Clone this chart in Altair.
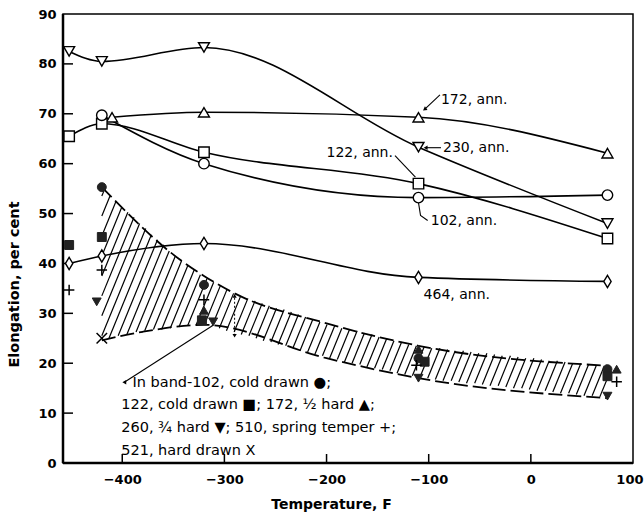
import altair as alt
import numpy as np
import pandas as pd

FONT = "DejaVu Sans"

# ---- annealed series (open markers, solid smooth curves) ----
s230_x = [-452, -420, -320, -110, 75]
s230_y = [82.5, 80.5, 83.3, 63.3, 48.0]
s172_x = [-410, -320, -110, 75]
s172_y = [69.3, 70.3, 69.3, 62.1]
s122_x = [-452, -420, -320, -110, 75]
s122_y = [65.5, 68.0, 62.3, 56.0, 45.0]
s102_x = [-420, -320, -110, 75]
s102_y = [69.7, 60.0, 53.2, 53.7]
s464_x = [-452, -420, -320, -110, 75]
s464_y = [40.0, 41.5, 44.0, 37.2, 36.4]

# ---- cold-worked points (filled / stroked markers) ----
cold_x = [-452, -452, -420, -420, -420, -425, -420,
          -320, -320, -320, -322, -311,
          -110, -110, -104, -112, -110,
          75, 75, 84, 84, 75]
cold_y = [43.7, 34.7, 55.3, 45.3, 38.7, 32.3, 25.0,
          35.7, 32.7, 30.6, 28.6, 28.3,
          22.8, 21.0, 20.3, 19.6, 17.0,
          18.8, 17.4, 18.8, 16.3, 13.4]
cold_kind = ["square", "plus", "circle", "square", "plus", "tdown", "x",
             "circle", "plus", "tup", "square", "tdown",
             "tup", "circle", "square", "plus", "tdown",
             "circle", "square", "tup", "plus", "tdown"]

# ---- scatter band edges ----
band_up_x = [-420, -345, -320, -290, -200, -110, 75]
band_up_y = [55.3, 41.0, 37.5, 34.0, 28.0, 23.5, 19.5]
band_lo_x = [-420, -380, -320, -200, -110, 75]
band_lo_y = [24.6, 26.3, 27.7, 21.0, 17.0, 13.0]

x_ticks = [-400, -300, -200, -100, 0, 100]
y_ticks = [0, 10, 20, 30, 40, 50, 60, 70, 80, 90]

XS = alt.Scale(domain=[-458, 100], nice=False, zero=False)
YS = alt.Scale(domain=[0, 90], nice=False, zero=False)

W, H = 570, 449

X_AXIS = alt.Axis(
    values=x_ticks, title="Temperature, F", ticks=False, domain=False, grid=False,
    labelFont=FONT, labelFontSize=13, labelFontWeight="bold", labelColor="black",
    labelPadding=10, titleFont=FONT, titleFontSize=14, titleFontWeight="bold",
    titleColor="black", titlePadding=11, titleX=268, labelFlush=True, labelFlushOffset=10)
Y_AXIS = alt.Axis(
    values=y_ticks, title="Elongation, per cent", ticks=False, domain=False, grid=False,
    labelFont=FONT, labelFontSize=13, labelFontWeight="bold", labelColor="black",
    labelPadding=7, titleFont=FONT, titleFontSize=14.5, titleFontWeight="bold",
    titleColor="black", titlePadding=16, titleY=270, labelFlush=False)

# ---------------- data frames ----------------
rows = []
for name, xs, ys in [("230", s230_x, s230_y), ("172", s172_x, s172_y),
                     ("122", s122_x, s122_y), ("102", s102_x, s102_y),
                     ("464", s464_x, s464_y)]:
    for i, (a, b) in enumerate(zip(xs, ys)):
        rows.append({"s": name, "x": a, "y": b, "i": i})
ann = pd.DataFrame(rows)

shape_map = {
    "230": "triangle-down",
    "172": "triangle-up",
    "122": "square",
    "102": "circle",
    "464": "M0,-1L0.6,0L0,1L-0.6,0Z",
}
ann["shape"] = ann["s"].map(shape_map)
size_map = {"230": 120, "172": 120, "122": 110, "102": 110, "464": 150}
ann["size"] = ann["s"].map(size_map)

cold = pd.DataFrame({"x": cold_x, "y": cold_y, "k": cold_kind})
filled_shapes = {"square": "square", "circle": "circle",
                 "tup": "triangle-up", "tdown": "triangle-down"}
cold_f = cold[cold.k.isin(filled_shapes)].copy()
cold_f["shape"] = cold_f.k.map(filled_shapes)
cold_s = cold[~cold.k.isin(filled_shapes)].copy()
cold_s["shape"] = cold_s.k.map({"plus": "M-1,0L1,0M0,-1L0,1",
                                 "x": "M-1,-1L1,1M-1,1L1,-1"})

band = pd.concat([
    pd.DataFrame({"e": "up", "x": band_up_x, "y": band_up_y}),
    pd.DataFrame({"e": "lo", "x": band_lo_x, "y": band_lo_y}),
])

# hatch styling inside the band (decoration)
dense = np.arange(-420, 75.01, 0.5)
upf = np.interp(dense, band_up_x, band_up_y)
lof = np.interp(dense, band_lo_x, band_lo_y)
m = 0.5
hatch = []
cmin = (lof - m * dense).min()
cmax = (upf - m * dense).max()
for c in np.arange(cmin, cmax, 4.0):
    ly = m * dense + c
    mask = (ly >= lof) & (ly <= upf)
    if mask.sum() > 1:
        xa, xb = dense[mask].min(), dense[mask].max()
        hatch.append({"x": xa, "y": m * xa + c, "x2": xb, "y2": m * xb + c})
hatch = pd.DataFrame(hatch)

# ---------------- layers ----------------
base_x = alt.X("x:Q", scale=XS, axis=X_AXIS)
base_y = alt.Y("y:Q", scale=YS, axis=Y_AXIS)

hatch_layer = alt.Chart(hatch).mark_rule(color="black", strokeWidth=1.2).encode(
    x=base_x, y=base_y, x2="x2:Q", y2="y2:Q")

band_layer = alt.Chart(band).mark_line(
    color="black", strokeWidth=1.8, strokeDash=[14, 5], interpolate="monotone"
).encode(x=base_x, y=base_y, detail="e:N")

curve_layer = alt.Chart(ann).mark_line(
    color="black", strokeWidth=1.6, interpolate="monotone"
).encode(x=base_x, y=base_y, detail="s:N", order="i:Q")

open_pts = alt.Chart(ann).mark_point(
    filled=True, fill="white", stroke="black", strokeWidth=1.4, opacity=1
).encode(x=base_x, y=base_y,
         shape=alt.Shape("shape:N", scale=None),
         size=alt.Size("size:Q", scale=None))

filled_pts = alt.Chart(cold_f).mark_point(
    filled=True, fill="#222222", stroke="#222222", strokeWidth=1, size=80, opacity=1
).encode(x=base_x, y=base_y, shape=alt.Shape("shape:N", scale=None))

stroke_pts = alt.Chart(cold_s).mark_point(
    filled=False, stroke="black", strokeWidth=1.5, size=110, opacity=1
).encode(x=base_x, y=base_y, shape=alt.Shape("shape:N", scale=None))

# double arrow near -290
darrow = pd.DataFrame({"x": [-290], "y": [25.5], "y2": [33.5]})
darrow_layer = alt.Chart(darrow).mark_rule(color="black", strokeWidth=1, strokeDash=[2, 2]).encode(
    x=base_x, y=base_y, y2="y2:Q")
dheads = pd.DataFrame({"x": [-290, -290], "y": [33.5, 25.5],
                       "shape": ["triangle-up", "triangle-down"]})
dheads_layer = alt.Chart(dheads).mark_point(filled=True, color="black", size=18, opacity=1).encode(
    x=base_x, y=base_y, shape=alt.Shape("shape:N", scale=None))

# leader lines
lead_id = ["a172", "a172", "a230", "a230", "a122", "a122",
           "a102", "a102", "a102", "leg", "leg"]
lead_x = [-104, -89, -102, -88, -133, -113, -110, -108, -101, -398, -311]
lead_y = [70.9, 73.8, 63.2, 63.2, 61.6, 57.3, 52.2, 49.6, 48.6, 16.2, 27.6]
lead = pd.DataFrame({"id": lead_id, "x": lead_x, "y": lead_y,
                     "i": list(range(len(lead_x)))})
lead_layer = alt.Chart(lead).mark_line(color="black", strokeWidth=1.1).encode(
    x=base_x, y=base_y, detail="id:N", order="i:Q")

heads = pd.DataFrame({"x": [-104, -103, -398], "y": [70.9, 63.2, 16.2],
                      "shape": ["triangle-left", "triangle-left", "triangle-left"],
                      "angle": [-35, 0, 0]})
heads_layer = alt.Chart(heads).mark_point(filled=True, color="black", size=20, opacity=1).encode(
    x=base_x, y=base_y, shape=alt.Shape("shape:N", scale=None),
    angle=alt.Angle("angle:Q", scale=None))

# annotation texts
ann_text = ["172, ann.", "230, ann.", "122, ann.", "102, ann.", "464, ann."]
ann_x = [-88, -86, -200, -98, -105]
ann_y = [72.8, 63.1, 62.1, 48.5, 33.7]
legend_text = ["In band-102, cold drawn ●;",
               "122, cold drawn ■; 172, ½ hard ▲;",
               "260, ¾ hard ▼; 510, spring temper +;",
               "521, hard drawn X"]
legend_x = [-390, -401, -401, -401]
legend_y = [16.0, 11.6, 7.0, 2.5]

ann_labs = pd.DataFrame({"x": ann_x, "y": ann_y, "t": ann_text})
ann_text_layer = alt.Chart(ann_labs).mark_text(
    align="left", baseline="middle", font=FONT, fontSize=14, color="black"
).encode(x=base_x, y=base_y, text="t:N")
leg_labs = pd.DataFrame({"x": legend_x, "y": legend_y, "t": legend_text})
leg_text_layer = alt.Chart(leg_labs).mark_text(
    align="left", baseline="middle", font=FONT, fontSize=14.5, color="black"
).encode(x=base_x, y=base_y, text="t:N")

# inward ticks
xt = pd.DataFrame({"x": x_ticks[:-1]})
xtick_layer = alt.Chart(xt).mark_rule(color="black", strokeWidth=1.5).encode(
    x=base_x, y=alt.value(H), y2=alt.value(H - 9))
yt = pd.DataFrame({"y": y_ticks[1:-1]})
ytick_layer = alt.Chart(yt).mark_rule(color="black", strokeWidth=1.5).encode(
    y=base_y, x=alt.value(0), x2=alt.value(10))

# thick left & bottom axis lines
axl = alt.Chart(pd.DataFrame({"v": [0]})).mark_rule(color="black", strokeWidth=2.5).encode(
    x=alt.value(0), y=alt.value(0), y2=alt.value(H))
axb = alt.Chart(pd.DataFrame({"v": [0]})).mark_rule(color="black", strokeWidth=2.5).encode(
    x=alt.value(0), x2=alt.value(W), y=alt.value(H))

chart = alt.layer(
    xtick_layer, ytick_layer, hatch_layer, band_layer, curve_layer, lead_layer,
    heads_layer, darrow_layer, dheads_layer, filled_pts, stroke_pts, open_pts,
    ann_text_layer, leg_text_layer, axl, axb
).properties(
    width=W, height=H,
    autosize=alt.AutoSizeParams(type="none"),
    padding={"left": 63, "top": 14, "right": 11, "bottom": 51},
    background="white",
).configure_view(stroke="black", strokeWidth=1.5)

chart.save("out.html", embed_options={"renderer": "svg", "actions": False})
